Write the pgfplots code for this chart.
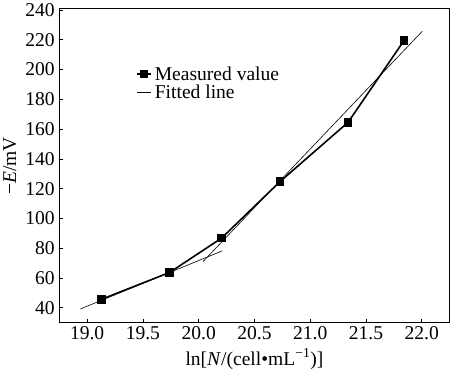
\documentclass[border=0pt]{standalone}
\usepackage{fontspec}
\setmainfont{Liberation Serif}
\usepackage{pgfplots}
\pgfplotsset{compat=1.18}
\newcommand{\bigf}{\fontsize{19.5}{22}\selectfont}
\begin{document}
\begin{tikzpicture}
\begin{axis}[
  scale only axis,
  width=388bp, height=312bp,
  xmin=18.75, xmax=22.25,
  ymin=30, ymax=240.7,
  xtick={19,19.5,...,22},
  ytick={40,60,...,240},
  tick align=inside,
  xtick pos=left, ytick pos=left,
  major tick length=4bp,
  axis line style={line width=0.8bp},
  tick style={line width=0.8bp, black},
  /pgf/number format/assume math mode=true,
  ticklabel style={font=\bigf},
  label style={font=\bigf},
  xticklabel style={/pgf/number format/.cd, fixed, fixed zerofill, precision=1},
  yticklabel style={xshift=-1bp, /pgf/number format/.cd, fixed, precision=0},
  xlabel={ln[\textit{N}/(cell•mL\textsuperscript{−1})]},
  ylabel={−\textit{E}/mV},
  xlabel style={yshift=-2bp},
  ylabel style={yshift=2bp},
  legend style={at={(0.19,0.83)}, anchor=north west, draw=none, fill=none,
    font=\bigf, row sep=-1bp,
    /tikz/every odd column/.append style={column sep=1.5bp}},
  legend cell align=left,
  legend image code/.code={\draw[mark repeat=2,mark phase=2,#1] plot coordinates {(0bp,0bp)(6.5bp,0bp)(13bp,0bp)};},
]
\addplot[black, line width=1.6bp, mark=square*, mark size=3.5bp, mark options={solid}]
  coordinates {(19.13,45.8) (19.74,63.8) (20.205,86.8) (20.73,124.8) (21.34,164.6) (21.84,219.3)};
\addlegendentry{Measured value}
\addplot[black, line width=0.6bp]
  coordinates {(18.94,39.3) (20.21,78.2)};
\addlegendentry{Fitted line}
\addplot[black, line width=0.6bp, forget plot]
  coordinates {(20.04,71.1) (22.005,225.7)};
\end{axis}
\end{tikzpicture}
\end{document}
